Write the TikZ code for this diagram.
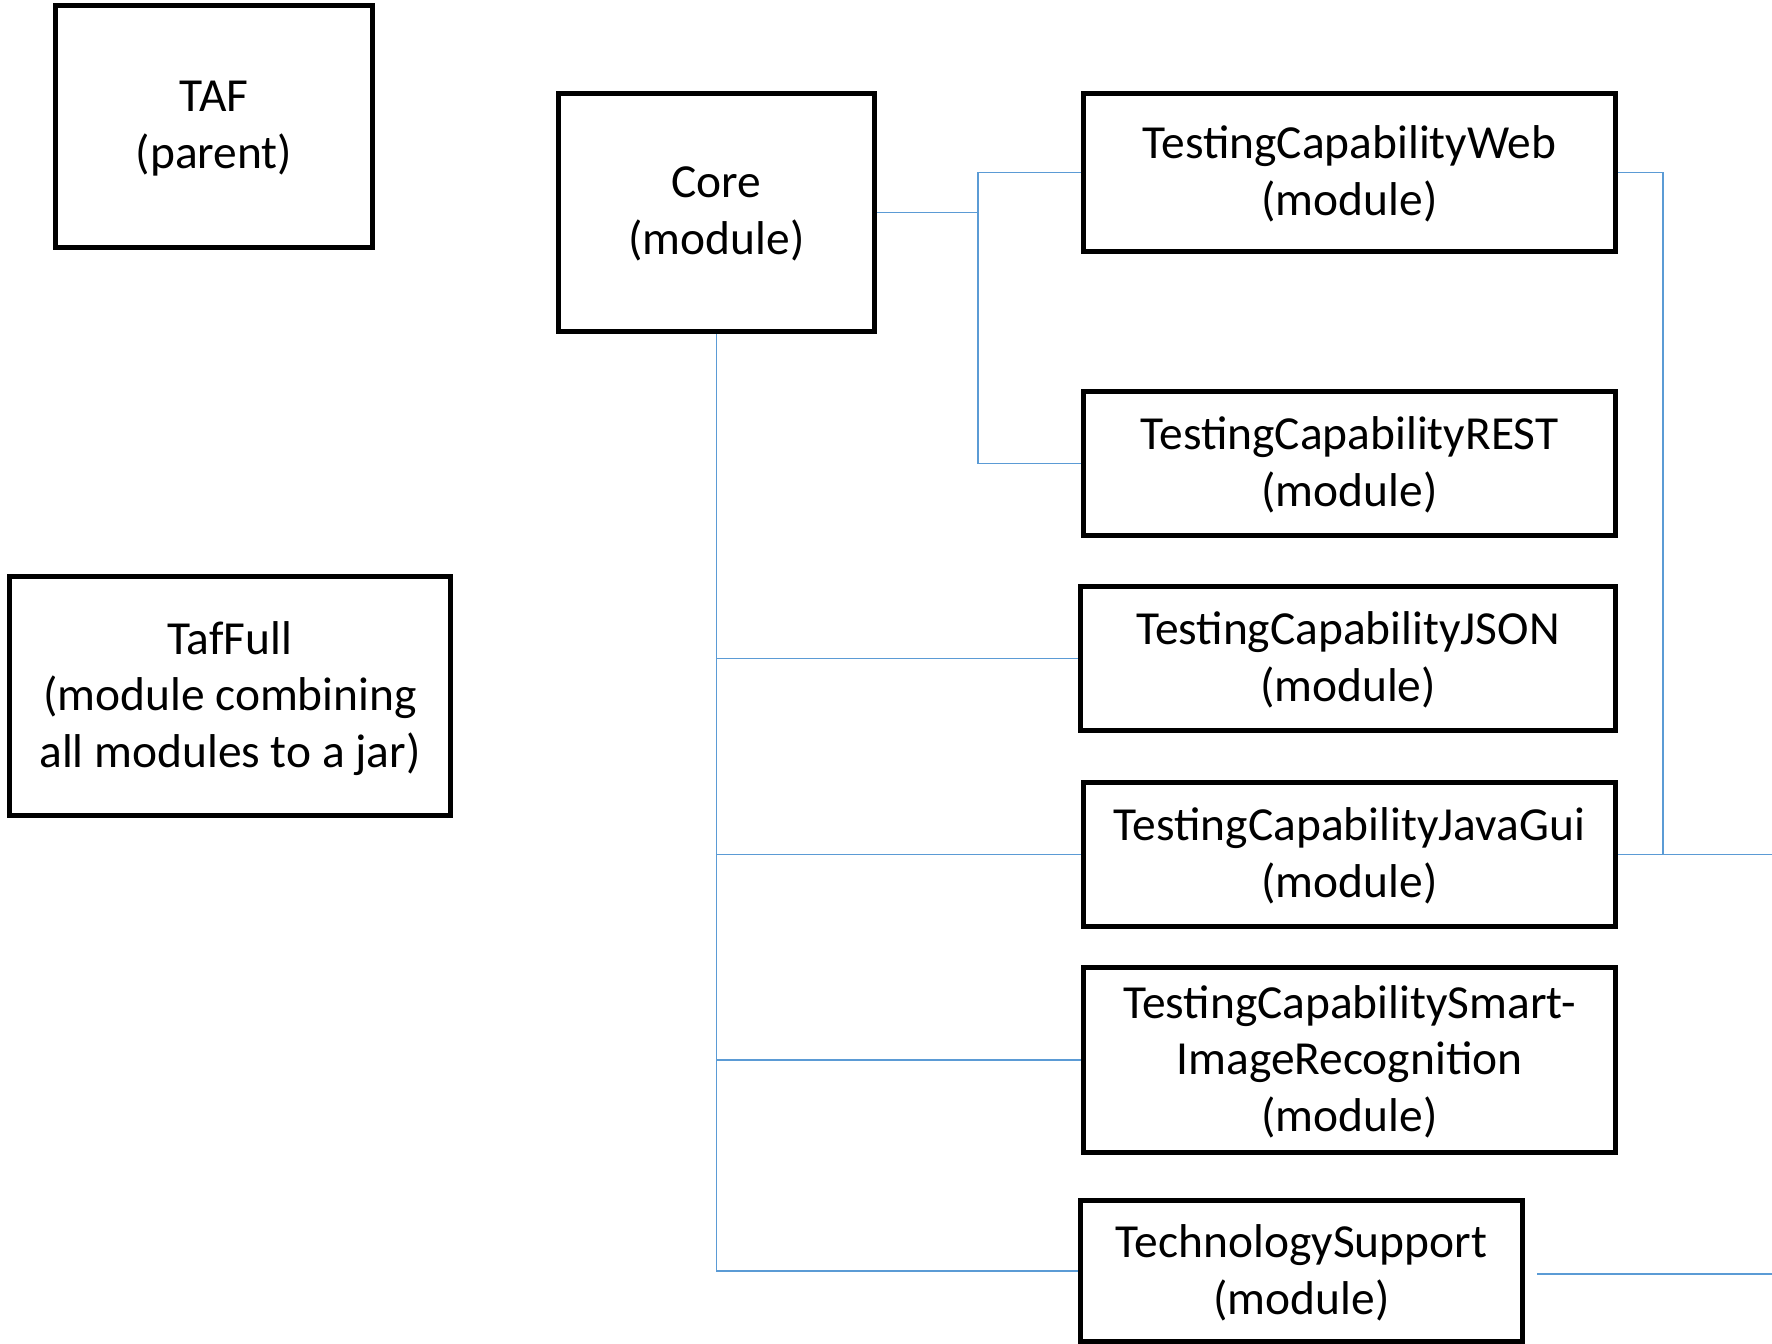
\documentclass[tikz,border=0pt]{standalone}
\usepackage{fontspec}
\setmainfont{Carlito}
\usetikzlibrary{positioning,calc}
\definecolor{linkblue}{RGB}{91,155,213}
\tikzset{
  modbox/.style={draw=black, line width=3pt, align=center, inner sep=0pt,
    text depth=2pt, font=\fontsize{27}{32.2}\selectfont},
  link/.style={draw=linkblue, line width=1.1pt}
}

\begin{document}
\begin{tikzpicture}[x=0.02cm, y=-0.02cm]
  \useasboundingbox (0,0) rectangle (1772,1344);

  % -- left column --
  \node[modbox, minimum width=6.34cm, minimum height=4.84cm] (taf) at (214,126.5)
    {TAF\\(parent)};
  \node[modbox, minimum width=8.82cm, minimum height=4.78cm] (taffull) at (230,696)
    {TafFull\\(module combining\\all modules to a jar)};

  % -- core --
  \node[modbox, minimum width=6.32cm, minimum height=4.76cm] (core) at (716.5,212.5)
    {Core\\(module)};

  % -- modules --
  \node[modbox, minimum width=10.64cm, minimum height=3.16cm] (web) at (1349.5,172.5)
    {TestingCapabilityWeb\\(module)};
  \node[modbox, minimum width=10.64cm, minimum height=2.88cm] (rest) at (1349.5,463.5)
    {TestingCapabilityREST\\(module)};
  \node[modbox, minimum width=10.70cm, minimum height=2.88cm] (json) at (1348,658.5)
    {TestingCapabilityJSON\\(module)};
  \node[modbox, minimum width=10.64cm, minimum height=2.88cm] (javagui) at (1349.5,854.5)
    {TestingCapabilityJavaGui\\(module)};
  \node[modbox, minimum width=10.64cm, minimum height=3.70cm] (smart) at (1349.5,1060)
    {TestingCapabilitySmart-\\ImageRecognition\\(module)};
  \node[modbox, minimum width=8.84cm, minimum height=2.82cm] (tech) at (1301.5,1271)
    {TechnologySupport\\(module)};

  % free ends
  \coordinate (forkA) at (978,212.5);
  \coordinate (riseB) at (1663,172.5);
  \coordinate (outA) at (1772,854.5);
  \coordinate (outB) at (1772,1274);

  % -- core to web / rest --
  \draw[link] (core.east) -- (forkA);
  \draw[link] (web.west) -| (forkA) |- (rest.west);

  % -- core trunk --
  \draw[link] (core.south) |- (tech.west);
  \draw[link] (json.west) -- (json.west -| core.south);
  \draw[link] (javagui.west) -- (javagui.west -| core.south);
  \draw[link] (smart.west) -- (smart.west -| core.south);

  % -- right side --
  \draw[link] (web.east) -- (riseB) |- (javagui.east);
  \draw[link] (javagui.east) -- (outA);
  \draw[link] ([xshift=0.24cm]tech.east |- outB) -- (outB);

\end{tikzpicture}
\end{document}
